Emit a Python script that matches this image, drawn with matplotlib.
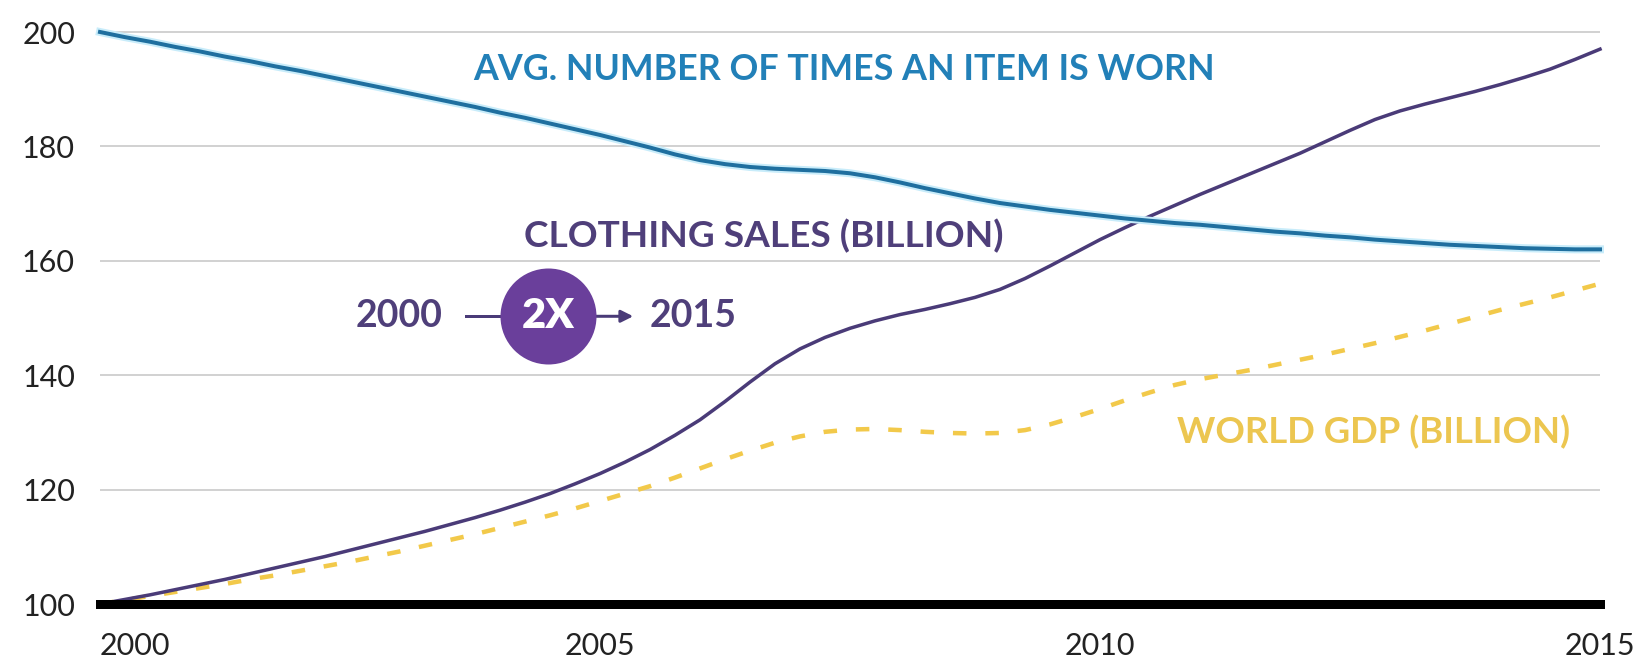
import matplotlib
matplotlib.use("Agg")
import matplotlib.pyplot as plt
import numpy as np

# quarter-year readings taken off the chart
years = np.arange(2000, 2015.001, 0.25)

times_worn = [200.0, 199.1, 198.3, 197.4, 196.6, 195.7, 194.9, 194.0, 193.2, 192.3,
              191.4, 190.5, 189.6, 188.7, 187.8, 186.9, 185.9, 185.0, 184.0, 183.0,
              182.0, 180.9, 179.8, 178.6, 177.6, 176.9, 176.4, 176.1, 175.9, 175.7,
              175.3, 174.6, 173.7, 172.7, 171.8, 170.9, 170.1, 169.5, 168.9, 168.4,
              167.9, 167.4, 167.0, 166.6, 166.3, 165.9, 165.5, 165.1, 164.8, 164.4,
              164.1, 163.7, 163.4, 163.1, 162.8, 162.6, 162.4, 162.2, 162.1, 162.0,
              162.0]

clothing_sales = [100.0, 100.8, 101.6, 102.5, 103.4, 104.3, 105.3, 106.3, 107.3, 108.3,
                  109.4, 110.5, 111.6, 112.7, 113.9, 115.1, 116.4, 117.8, 119.3, 121.0,
                  122.8, 124.8, 127.0, 129.5, 132.2, 135.4, 138.8, 142.0, 144.6, 146.6,
                  148.2, 149.5, 150.6, 151.5, 152.5, 153.6, 155.0, 156.9, 159.1, 161.4,
                  163.7, 165.8, 167.8, 169.7, 171.6, 173.4, 175.2, 177.0, 178.8, 180.8,
                  182.8, 184.7, 186.2, 187.4, 188.5, 189.6, 190.8, 192.1, 193.5, 195.2,
                  197.0]

world_gdp = [100.0, 100.7, 101.4, 102.1, 102.8, 103.5, 104.3, 105.0, 105.8, 106.6,
             107.4, 108.3, 109.2, 110.2, 111.2, 112.2, 113.3, 114.4, 115.5, 116.7,
             118.0, 119.3, 120.6, 122.1, 123.7, 125.3, 126.8, 128.2, 129.3, 130.1,
             130.5, 130.6, 130.4, 130.1, 129.9, 129.8, 129.9, 130.4, 131.4, 132.7,
             134.1, 135.6, 137.0, 138.3, 139.3, 140.1, 140.9, 141.8, 142.7, 143.6,
             144.6, 145.6, 146.7, 147.8, 149.0, 150.2, 151.4, 152.5, 153.6, 154.8,
             156.0]

y_ticks = [100, 120, 140, 160, 180, 200]
x_ticks = [2000, 2005, 2010, 2015]

BLUE = '#1f6f9f'
BLUE_TXT = '#2280b8'
PURPLE = '#4a3b78'
PURPLE_TXT = '#4f3f7a'
CIRCLE = '#6a3f9b'
YELLOW = '#f2c94a'
YELLOW_TXT = '#ecc650'

plt.rcParams['font.family'] = ['Lato', 'DejaVu Sans']

DPI = 100
fig = plt.figure(figsize=(16.41, 6.59), dpi=DPI)
ax = fig.add_axes([100/1641., 55/659., 1500/1641., 572/659.])
ax.set_xlim(2000, 2015)
ax.set_ylim(100, 200)
for s in ax.spines.values():
    s.set_visible(False)

px = 72. / DPI  # points per pixel

# grid
ax.hlines(y_ticks[1:], 2000, 2015, colors='#d2d2d2', lw=2*px, clip_on=False, zorder=1)
ax.hlines(100, 2000, 2015, colors='black', lw=9*px, capstyle='projecting',
          clip_on=False, zorder=6)

# series
ax.plot(years, world_gdp, color=YELLOW, lw=4.5*px, dashes=(3.0, 4.2),
        solid_capstyle='butt', clip_on=False, zorder=3)
ax.plot(years, clothing_sales, color=PURPLE, lw=3.5*px, clip_on=False, zorder=4)
ax.plot(years, times_worn, color='#c8ecfa', lw=8*px, clip_on=False, zorder=4.5)
ax.plot(years, times_worn, color=BLUE, lw=4*px, clip_on=False, zorder=5)

ax.set_yticks(y_ticks)
ax.set_xticks(x_ticks)
ax.tick_params(length=0, labelsize=22, labelcolor='#222222')
ax.tick_params(axis='y', pad=18)
ax.tick_params(axis='x', pad=20)
lbl = ax.get_xticklabels()
lbl[0].set_ha('left')
lbl[0].set_x(1999.75)

fig.canvas.draw()
rend = fig.canvas.get_renderer()


def fit_text(x, y, s, width_px, **kw):
    t = ax.text(x, y, s, va='center', ha='left', **kw)
    w = t.get_window_extent(rend).width
    t.set_fontsize(t.get_fontsize() * width_px / w)
    return t


fit_text(2003.73, 193.4, 'AVG. NUMBER OF TIMES AN ITEM IS WORN', 740,
         fontsize=27, fontweight='bold', color=BLUE_TXT)
fit_text(2004.24, 164.3, 'CLOTHING SALES (BILLION)', 479,
         fontsize=27, fontweight='bold', color=PURPLE_TXT)
fit_text(2010.77, 130.1, 'WORLD GDP (BILLION)', 393,
         fontsize=27, fontweight='bold', color=YELLOW_TXT)

# 2000 -> 2X -> 2015 badge
yb = 150.3
ax.text(2002.56, yb, '2000', ha='left', va='center', fontsize=27,
        fontweight='bold', color=PURPLE_TXT)
ax.text(2005.50, yb, '2015', ha='left', va='center', fontsize=27,
        fontweight='bold', color=PURPLE_TXT)
ax.plot([2003.66, 2004.1], [yb, yb], color=PURPLE, lw=3*px, zorder=6)
ax.annotate('', xy=(2005.36, yb), xytext=(2004.9, yb),
            arrowprops=dict(arrowstyle='-|>', color=PURPLE, lw=3*px,
                            mutation_scale=18), zorder=6)
ax.scatter([2004.48], [yb], s=(96*px)**2, color=CIRCLE, zorder=7, linewidths=0)
ax.text(2004.48, yb, '2X', ha='center', va='center', fontsize=30,
        fontweight='heavy', color='white', zorder=8)

fig.savefig('out.png', dpi=DPI)
